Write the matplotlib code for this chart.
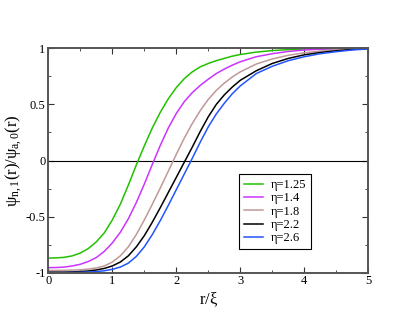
import numpy as np
import matplotlib
matplotlib.use("Agg")
import matplotlib.pyplot as plt
from matplotlib.ticker import MultipleLocator

plt.rcParams['font.family'] = ['Liberation Serif', 'DejaVu Serif']
plt.rcParams['mathtext.fontset'] = 'custom'
plt.rcParams['mathtext.rm'] = 'Liberation Serif'
plt.rcParams['mathtext.it'] = 'Liberation Serif'

# r/xi sample points and curve values
r = [0.0, 0.125, 0.25, 0.375, 0.5, 0.625, 0.75, 0.875, 1.0, 1.125, 1.25,
     1.375, 1.5, 1.625, 1.75, 1.875, 2.0, 2.125, 2.25, 2.375, 2.5, 2.625,
     2.75, 2.875, 3.0, 3.25, 3.5, 3.75, 4.0, 4.25, 4.5, 4.75, 5.0]
eta_125 = [-0.870, -0.868, -0.863, -0.85, -0.825, -0.785, -0.725, -0.645,
           -0.53, -0.39, -0.22, -0.04, 0.13, 0.29, 0.43, 0.55, 0.65, 0.73,
           0.79, 0.835, 0.865, 0.89, 0.91, 0.93, 0.945, 0.966, 0.98, 0.988,
           0.993, 0.996, 0.998, 0.999, 1.0]
eta_14 = [-0.955, -0.954, -0.95, -0.94, -0.925, -0.90, -0.865, -0.81,
          -0.735, -0.64, -0.52, -0.375, -0.21, -0.035, 0.135, 0.29, 0.42,
          0.525, 0.605, 0.67, 0.725, 0.775, 0.815, 0.85, 0.88, 0.925, 0.952,
          0.972, 0.985, 0.992, 0.996, 0.999, 1.0]
eta_18 = [-0.98, -0.98, -0.979, -0.977, -0.974, -0.968, -0.958, -0.94,
          -0.905, -0.85, -0.77, -0.66, -0.53, -0.39, -0.245, -0.095, 0.055,
          0.2, 0.33, 0.445, 0.545, 0.625, 0.69, 0.745, 0.79, 0.86, 0.905,
          0.938, 0.96, 0.975, 0.986, 0.994, 1.0]
eta_22 = [-0.995, -0.995, -0.995, -0.993, -0.99, -0.985, -0.976, -0.962,
          -0.94, -0.905, -0.85, -0.77, -0.67, -0.55, -0.42, -0.285, -0.15,
          -0.015, 0.12, 0.26, 0.39, 0.50, 0.585, 0.655, 0.715, 0.80, 0.865,
          0.91, 0.942, 0.963, 0.978, 0.99, 0.998]
eta_26 = [-1.0, -1.0, -0.999, -0.998, -0.997, -0.994, -0.99, -0.983,
          -0.97, -0.95, -0.915, -0.855, -0.77, -0.66, -0.535, -0.40, -0.26,
          -0.12, 0.02, 0.165, 0.30, 0.415, 0.51, 0.595, 0.665, 0.775, 0.84,
          0.89, 0.925, 0.952, 0.97, 0.985, 0.995]

series = [
    ("\u03b7=1.25", eta_125, "#22c000"),
    ("\u03b7=1.4", eta_14, "#cc33ff"),
    ("\u03b7=1.8", eta_18, "#c09898"),
    ("\u03b7=2.2", eta_22, "#000000"),
    ("\u03b7=2.6", eta_26, "#2255ff"),
]

fig = plt.figure(figsize=(4.15, 3.21), dpi=100)
ax = fig.add_axes([0.1164, 0.1505, 0.7711, 0.699])

ax.axhline(0, color="black", lw=0.8)
for label, vals, col in series:
    ax.plot(r, vals, color=col, lw=1.1, label=label)

ax.set_xlim(0, 5)
ax.set_ylim(-1, 1)
ax.xaxis.set_major_locator(MultipleLocator(1))
ax.xaxis.set_minor_locator(MultipleLocator(0.5))
ax.yaxis.set_major_locator(MultipleLocator(0.5))
ax.yaxis.set_minor_locator(MultipleLocator(0.25))
ax.set_yticks([-1, -0.5, 0, 0.5, 1])
ax.set_yticklabels(["-1", "-0.5", "0", "0.5", "1"])
ax.tick_params(which="both", direction="in", top=True, right=True,
               labelsize=9, pad=2, color="#333333")
ax.tick_params(which="major", length=4)
ax.tick_params(which="minor", length=2)
for s in ax.spines.values():
    s.set_color("#555555")
    s.set_linewidth(1.4)

ax.set_xlabel(r"r/$\xi$", fontsize=12, labelpad=2)
ax.set_ylabel(r"$\psi_{n,1}(r)/\psi_{a,0}(r)$", fontsize=12, labelpad=1)

leg = ax.legend(loc="lower left", bbox_to_anchor=(0.597, 0.105), fontsize=9,
                handlelength=1.5, handletextpad=0.6, labelspacing=0.1,
                borderpad=0.4, borderaxespad=0, fancybox=False, framealpha=1)
leg.get_frame().set_edgecolor("black")
leg.get_frame().set_linewidth(0.8)

fig.savefig("out.png", dpi=100)
